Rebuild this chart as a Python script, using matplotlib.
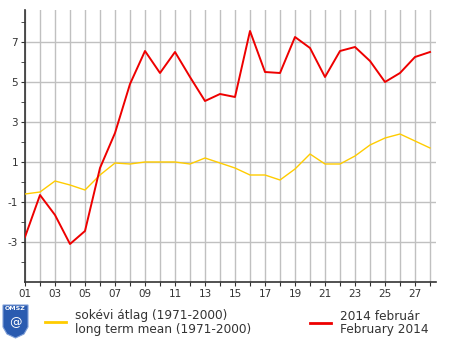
import numpy as np
import matplotlib
matplotlib.use('Agg')
import matplotlib.pyplot as plt
from matplotlib.patches import Polygon

# jours de février 2014
days = np.arange(1, 29)
day_labels = ['%02d' % d if d % 2 == 1 else '' for d in days]

# températures journalières (°C)
feb_2014 = [-2.75, -0.65, -1.65, -3.1, -2.45, 0.7, 2.45, 4.9, 6.55, 5.45,
            6.5, 5.25, 4.05, 4.4, 4.25, 7.55, 5.5, 5.45, 7.25, 6.7,
            5.25, 6.55, 6.75, 6.05, 5.0, 5.45, 6.25, 6.5]
long_term = [-0.6, -0.5, 0.05, -0.15, -0.4, 0.35, 0.95, 0.9, 1.0, 1.0,
             1.0, 0.9, 1.2, 0.95, 0.7, 0.35, 0.35, 0.1, 0.65, 1.4,
             0.9, 0.9, 1.3, 1.85, 2.2, 2.4, 2.05, 1.7]

y_major = [-3, -1, 1, 3, 5, 7]
y_minor = [-4, -2, 0, 2, 4, 6, 8]

fig = plt.figure(figsize=(4.6, 3.42), dpi=100)
ax = fig.add_axes([25/460, 60/342, 411/460, 272/342])

ax.plot(days, long_term, color='#ffcc00', lw=1.0, zorder=3)
ax.plot(days, feb_2014, color='#ee0000', lw=1.4, zorder=4)

ax.set_xlim(1, 28.4)
ax.set_ylim(-5, 8.6)
ax.set_xticks(days)
ax.set_xticklabels(day_labels)
ax.set_yticks(y_major)
ax.set_yticklabels([str(v) for v in y_major])
ax.set_yticks(y_minor, minor=True)

ax.grid(True, which='major', color='#c0c0c0', lw=1.0, zorder=0)
for s in ['top', 'right']:
    ax.spines[s].set_visible(False)
for s in ['left', 'bottom']:
    ax.spines[s].set_color('#333333')
    ax.spines[s].set_linewidth(1.2)
ax.tick_params(axis='both', which='both', length=3, color='#333333',
               labelsize=7.5, labelcolor='#333333', pad=2)

# logo OMSZ (simplifié), coordonnées en pixels depuis le haut
shield = np.array([[3, 305], [28, 305], [28, 327], [24, 334], [15.5, 338],
                   [7, 334], [3, 327]], dtype=float)
shield[:, 1] = 342 - shield[:, 1]
logo = Polygon(shield, closed=True, transform=None, facecolor='#2a5bb0',
               edgecolor='#7f9fd8', lw=0.8)
fig.patches.append(logo)
fig.text(15.5/460, 1 - 309/342, 'OMSZ', color='white', fontsize=4.5,
         fontweight='bold', ha='center', va='center')
fig.text(15.5/460, 1 - 323/342, '@', color='white', fontsize=9,
         ha='center', va='center')

# légende
fig.lines.append(plt.Line2D([45/460, 66/460], [1 - 322/342] * 2,
                            color='#ffcc00', lw=2, transform=fig.transFigure))
fig.lines.append(plt.Line2D([310/460, 331/460], [1 - 323/342] * 2,
                            color='#ee0000', lw=2, transform=fig.transFigure))
fig.text(75/460, 1 - 316/342, 'sokévi átlag (1971-2000)', fontsize=8.7,
         color='#333333', va='center')
fig.text(75/460, 1 - 330/342, 'long term mean (1971-2000)', fontsize=8.7,
         color='#333333', va='center')
fig.text(340/460, 1 - 316/342, '2014 február', fontsize=8.7,
         color='#333333', va='center')
fig.text(340/460, 1 - 330/342, 'February 2014', fontsize=8.7,
         color='#333333', va='center')

fig.savefig('out.png', dpi=100)
